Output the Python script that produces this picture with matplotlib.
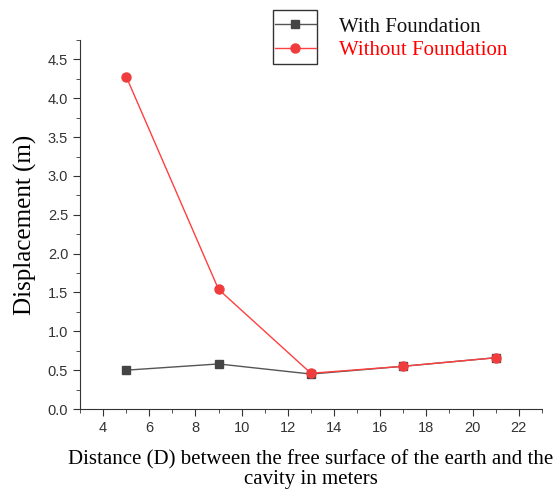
import matplotlib
matplotlib.use("Agg")
from matplotlib import pyplot as plt
from matplotlib.patches import Rectangle
from matplotlib.ticker import MultipleLocator

# data
distance = [5, 9, 13, 17, 21]
with_foundation = [0.50, 0.58, 0.45, 0.55, 0.66]
without_foundation = [4.28, 1.54, 0.46, 0.55, 0.66]

fig = plt.figure(figsize=(5.54, 4.91), dpi=100)
ax = fig.add_axes([0.1444, 0.167, 0.8336, 0.7515])

ax.plot(distance, with_foundation, color='#555555', lw=1.0, marker='s', ms=6,
        mfc='#444444', mec='#444444', label='With Foundation')
ax.plot(distance, without_foundation, color='#ff4040', lw=1.0, marker='o', ms=6.5,
        mfc='#f03c3c', mec='#f03c3c', label='Without Foundation')

ax.set_xlim(3, 23)
ax.set_ylim(0, 4.75)
ax.xaxis.set_major_locator(MultipleLocator(2))
ax.xaxis.set_minor_locator(MultipleLocator(1))
ax.yaxis.set_major_locator(MultipleLocator(0.5))
ax.yaxis.set_minor_locator(MultipleLocator(0.25))
ax.spines['top'].set_visible(False)
ax.spines['right'].set_visible(False)
for s in ('left', 'bottom'):
    ax.spines[s].set_color('#333333')
ax.tick_params(which='major', direction='out', length=5, labelsize=10.5, colors='#333333')
ax.tick_params(which='minor', direction='out', length=3, colors='#333333')
for lbl in ax.get_xticklabels():
    lbl.set_fontfamily('Liberation Sans')
ax.set_yticklabels([f'{v:.1f}' for v in ax.get_yticks()], fontfamily='Liberation Sans')

ax.set_xlabel('Distance (D) between the free surface of the earth and the\ncavity in meters',
              fontsize=15, fontfamily='Liberation Serif', linespacing=1.0, labelpad=11)
ax.set_ylabel('Displacement (m)', fontsize=18, fontfamily='Liberation Serif', labelpad=8)

leg = fig.legend(loc='upper left', bbox_to_anchor=(275 / 554, 1 - 17 / 491), frameon=False,
                 borderpad=0, borderaxespad=0,
                 prop={'family': 'Liberation Serif', 'size': 15}, handlelength=1.95,
                 handletextpad=1.1, labelspacing=0.2, labelcolor=['#111111', '#ff0000'])
fig.patches.append(Rectangle((273 / 554, 1 - 64 / 491), 44 / 554, 54 / 491,
                             transform=fig.transFigure, fill=False, ec='#333333', lw=1.0))

fig.savefig('out.png', dpi=100)
